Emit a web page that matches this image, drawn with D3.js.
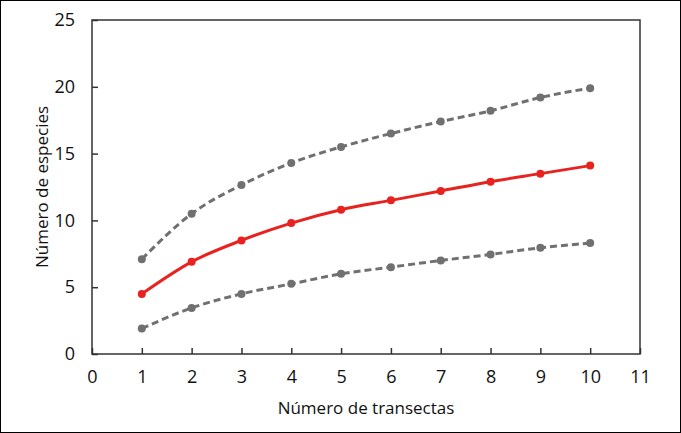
<!DOCTYPE html>
<html>
<head>
<meta charset="utf-8">
<script src="https://cdn.jsdelivr.net/npm/d3@7"></script>
<style>
  body { margin: 0; background: #fff; }
  text { font-family: "Open Sans", sans-serif; }
</style>
</head>
<body>
<div id="chartarea"></div>
<script>
const transectas = [1, 2, 3, 4, 5, 6, 7, 8, 9, 10];
const upper = [7.1, 10.5, 12.65, 14.3, 15.5, 16.5, 17.4, 18.2, 19.2, 19.9];
const mean = [4.5, 6.9, 8.5, 9.8, 10.8, 11.5, 12.2, 12.9, 13.5, 14.1];
const lower = [1.9, 3.45, 4.5, 5.25, 6.0, 6.5, 7.0, 7.45, 7.95, 8.3];
const xTicks = d3.range(0, 12);
const yTicks = [0, 5, 10, 15, 20, 25];

const W = 681, H = 433;
const margin = { top: 20, right: 41, bottom: 79, left: 92 };
const width = W - margin.left - margin.right;
const height = H - margin.top - margin.bottom;

const svg = d3.select('#chartarea').append('svg')
    .attr('width', W)
    .attr('height', H);

// outer frame
svg.append('rect')
    .attr('x', 0.5).attr('y', 0.5)
    .attr('width', W - 1).attr('height', H - 1)
    .attr('fill', 'none').attr('stroke', '#000');

const g = svg.append('g')
    .attr('transform', `translate(${margin.left}, ${margin.top})`);

const x = d3.scaleLinear().domain([0, 11]).range([0, width]);
const y = d3.scaleLinear().domain([0, 25]).range([height, 0]);

// plot box
g.append('rect')
    .attr('width', width).attr('height', height)
    .attr('fill', 'none').attr('stroke', '#333').attr('stroke-width', 1.5);

const xAxis = g.append('g')
    .attr('transform', `translate(0, ${height})`)
    .call(d3.axisBottom(x).tickValues(xTicks).tickSize(-6).tickPadding(16));
const yAxis = g.append('g')
    .call(d3.axisLeft(y).tickValues(yTicks).tickSize(-6).tickPadding(17));

[xAxis, yAxis].forEach(a => {
    a.select('.domain').remove();
    a.selectAll('line').attr('stroke', '#333').attr('stroke-width', 1.5);
    a.selectAll('text').attr('font-size', '18px').attr('fill', '#111')
        .attr('font-family', '"Open Sans", sans-serif').attr('font-weight', 400);
});

const line = d3.line()
    .x((d, i) => x(transectas[i]))
    .y(d => y(d))
    .curve(d3.curveMonotoneX);

const series = [
    { values: upper, color: '#707070', dash: '7,4' },
    { values: lower, color: '#707070', dash: '7,4' },
    { values: mean, color: '#e8231f', dash: null }
];

series.forEach(s => {
    g.append('path')
        .datum(s.values)
        .attr('d', line)
        .attr('fill', 'none')
        .attr('stroke', s.color)
        .attr('stroke-width', 3)
        .attr('stroke-dasharray', s.dash);
    g.selectAll(null)
        .data(s.values)
        .enter()
        .append('circle')
        .attr('cx', (d, i) => x(transectas[i]))
        .attr('cy', d => y(d))
        .attr('r', 4)
        .attr('fill', s.color);
});

// axis titles
g.append('text')
    .attr('x', width / 2)
    .attr('y', height + 60)
    .attr('text-anchor', 'middle')
    .attr('font-size', '17px')
    .attr('fill', '#111')
    .text('Número de transectas');

g.append('text')
    .attr('transform', 'rotate(-90)')
    .attr('x', -height / 2)
    .attr('y', -44)
    .attr('text-anchor', 'middle')
    .attr('font-size', '17px')
    .attr('fill', '#111')
    .text('Número de especies');
</script>
</body>
</html>
